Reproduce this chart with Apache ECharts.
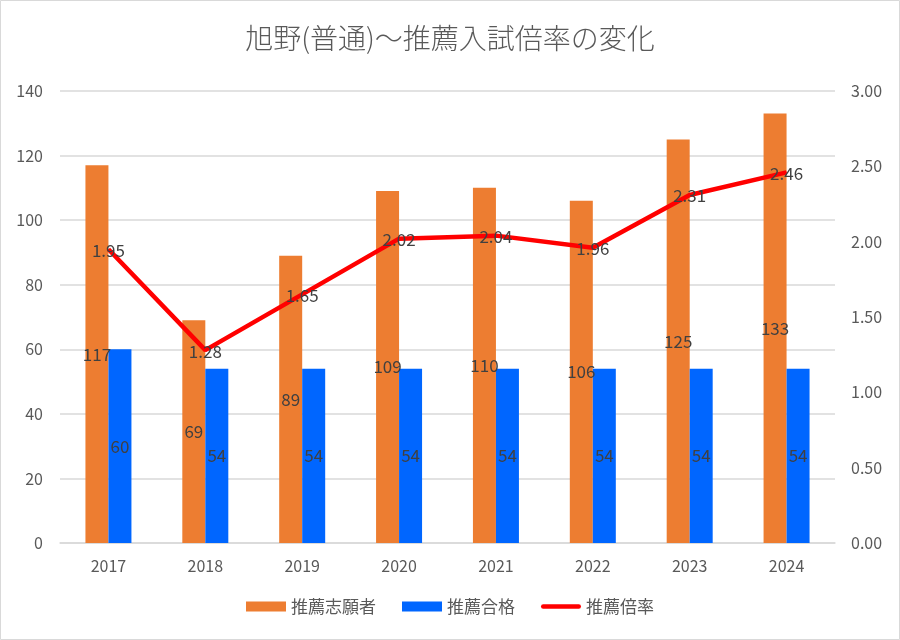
<!DOCTYPE html>
<html><head><meta charset="utf-8">
<script src="https://cdn.jsdelivr.net/npm/echarts@6/dist/echarts.min.js"></script>
<style>html,body{margin:0;padding:0;background:#fff}#c{width:900px;height:640px}</style>
</head><body><div id="c"></div>
<script>
const categories = ['2017','2018','2019','2020','2021','2022','2023','2024'];
const applicants = [117, 69, 89, 109, 110, 106, 125, 133];
const passed = [60, 54, 54, 54, 54, 54, 54, 54];
const ratio = [1.95, 1.28, 1.65, 2.02, 2.04, 1.96, 2.31, 2.46];
const seriesNames = ['推薦志願者', '推薦合格', '推薦倍率'];
const titleText = '旭野(普通)～推薦入試倍率の変化';

const font = '"Noto Sans CJK JP", "Noto Sans", sans-serif';
const chart = echarts.init(document.getElementById('c'));
chart.setOption({
  animation: false,
  backgroundColor: '#fff',
  textStyle: { fontFamily: font },
  graphic: [{ type: 'rect', shape: { x: 0.5, y: 0.5, width: 899, height: 639 }, style: { fill: 'none', stroke: '#d9d9d9', lineWidth: 1 } }],
  title: { text: titleText, left: 'center', top: 19, textStyle: { fontFamily: font, fontSize: 28, fontWeight: 300, color: '#595959' } },
  legend: {
    bottom: 20, left: 'center', itemWidth: 40, itemHeight: 10, itemGap: 26,
    textStyle: { fontFamily: font, fontSize: 17, color: '#595959' },
    data: [
      { name: seriesNames[0], icon: 'rect' },
      { name: seriesNames[1], icon: 'rect' },
      { name: seriesNames[2], icon: 'path://M2.5,0 L42.5,0 A2.5,2.5 0 0 1 42.5,5 L2.5,5 A2.5,2.5 0 0 1 2.5,0 Z' }
    ]
  },
  grid: { left: 60, right: 65, top: 91, bottom: 97 },
  xAxis: {
    type: 'category', data: categories,
    axisLine: { lineStyle: { color: '#d9d9d9', width: 1.5 } },
    axisTick: { show: false },
    axisLabel: { color: '#595959', fontSize: 16, margin: 15, fontFamily: font }
  },
  yAxis: [
    { type: 'value', min: 0, max: 140, interval: 20,
      axisLine: { show: false }, axisTick: { show: false },
      splitLine: { lineStyle: { color: '#d9d9d9', width: 1.5 } },
      axisLabel: { color: '#595959', fontSize: 16, margin: 17, fontFamily: font } },
    { type: 'value', min: 0, max: 3, interval: 0.5,
      axisLine: { show: false }, axisTick: { show: false }, splitLine: { show: false },
      axisLabel: { color: '#595959', fontSize: 16, margin: 16, fontFamily: font, formatter: v => v.toFixed(2) } }
  ],
  series: [
    { name: seriesNames[0], type: 'bar', data: applicants, barWidth: 23, barGap: '0%',
      itemStyle: { color: '#ED7D31' },
      label: { show: true, position: 'inside', color: '#404040', fontSize: 17, fontFamily: font } },
    { name: seriesNames[1], type: 'bar', data: passed, barWidth: 23, barGap: '0%',
      itemStyle: { color: '#0066FF' },
      label: { show: true, position: 'inside', color: '#404040', fontSize: 17, fontFamily: font } },
    { name: seriesNames[2], type: 'line', yAxisIndex: 1, data: ratio, z: 5,
      symbol: 'circle', symbolSize: 1, showSymbol: true,
      lineStyle: { color: '#FF0000', width: 4.5 }, itemStyle: { color: '#FF0000' },
      label: { show: true, position: 'top', distance: 0, offset: [0, 10], color: '#404040', fontSize: 17, fontFamily: font, formatter: p => p.value.toFixed(2) } }
  ]
});
</script></body></html>
